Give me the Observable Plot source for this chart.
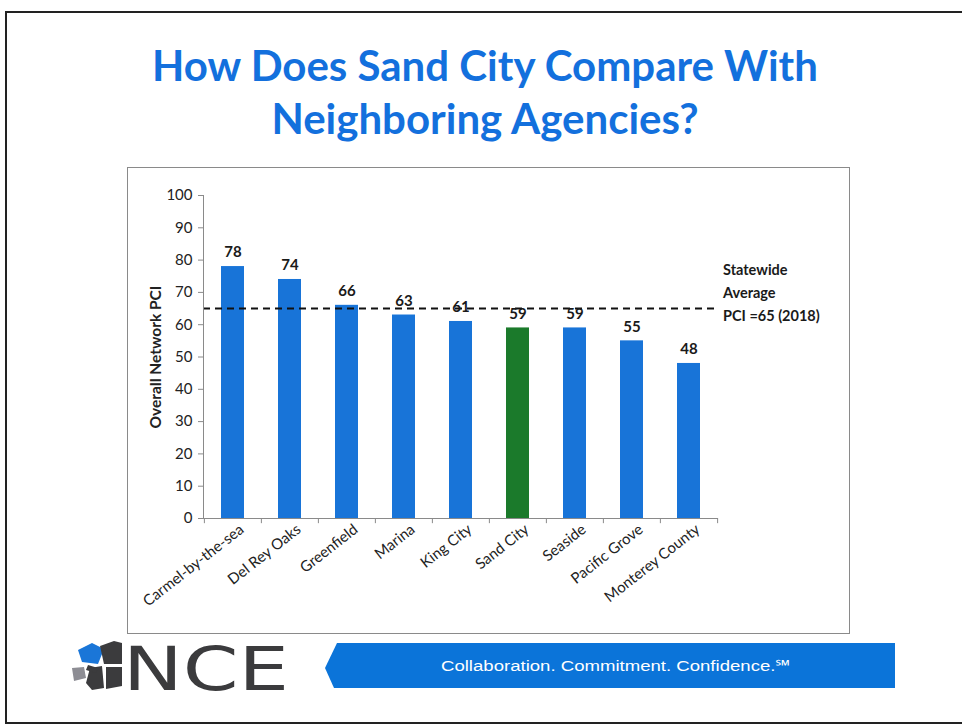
<!DOCTYPE html>
<html>
<head>
<meta charset="utf-8">
<script src="https://cdn.jsdelivr.net/npm/d3@7"></script>
<script src="https://cdn.jsdelivr.net/npm/@observablehq/plot@0.6"></script>
<style>
  html, body { margin: 0; padding: 0; background: #fff; }
  #slide { position: relative; width: 962px; height: 725px; overflow: hidden; background: #fff; font-family: Lato, "Open Sans", sans-serif; }
  #border { position: absolute; left: 5px; top: 11px; width: 962px; height: 709px; border-left: 2px solid #222; border-top: 2px solid #222; border-bottom: 2px solid #222; }
  #title { position: absolute; left: 0; top: 39px; width: 970px; text-align: center; color: #1370dd; font-weight: 700; font-size: 42px; line-height: 53px; }
  #chartbox { position: absolute; left: 127px; top: 167px; width: 721px; height: 465px; border: 1.5px solid #8a8a8a; }
  #chart { position: absolute; left: 127px; top: 165px; }
  #legend { position: absolute; left: 723px; top: 258px; font-weight: 700; font-size: 14.5px; line-height: 23px; color: #1a1a1a; }
  #footer { position: absolute; left: 0; top: 630px; }
</style>
</head>
<body>
<div id="slide">
  <div id="border"></div>
  <div id="title">How Does Sand City Compare With<br>Neighboring Agencies?</div>
  <div id="chartbox"></div>
  <div id="chart"></div>
  <div id="legend">Statewide<br>Average<br>PCI =65 (2018)</div>
  <svg id="footer" width="962" height="80" xmlns="http://www.w3.org/2000/svg">
    <g transform="translate(0,-630)">
      <polygon points="78,650 92,643 104,649 98,664 82,662" fill="#1a76d8"/>
      <polygon points="72,668 84,667 86,678 74,681" fill="#8d8d94"/>
      <polygon points="100,646 114,641 122,643 122,664 104,664" fill="#3b3b3d"/>
      <polygon points="90,668 102,666 104,688 92,690 86,683" fill="#3b3b3d"/>
      <polygon points="106,667 122,667 122,686 106,689" fill="#3b3b3d"/>
      <polygon points="88,665 98,668 96,673 86,670" fill="#3b3b3d"/>
      <text x="123" y="690" font-family="'DejaVu Sans', sans-serif" font-size="60" fill="#3b3b3d" textLength="166" lengthAdjust="spacingAndGlyphs">NCE</text>
      <polygon points="337,643 895,643 895,688 334,688 325,668" fill="#0b74d9"/>
      <text x="616" y="671" text-anchor="middle" font-family="'Liberation Sans', Arial, sans-serif" font-size="15.5" fill="#ffffff" textLength="350" lengthAdjust="spacingAndGlyphs">Collaboration. Commitment. Confidence.℠</text>
    </g>
  </svg>
</div>
<script>
const categories = ["Carmel-by-the-sea", "Del Rey Oaks", "Greenfield", "Marina", "King City", "Sand City", "Seaside", "Pacific Grove", "Monterey County"];
const pciValues = [78, 74, 66, 63, 61, 59, 59, 55, 48];
const highlighted = "Sand City";
const statewideAverage = [65];
const yTicks = [0, 10, 20, 30, 40, 50, 60, 70, 80, 90, 100];

const data = categories.map((name, i) => ({name, pci: pciValues[i]}));
const blue = "#1874d8";
const green = "#1b7a2b";

const W = 723, H = 467, mL = 76, mR = 132, mT = 30, mB = 114;
const step = (W - mL - mR) / categories.length;

const chart = Plot.plot({
  width: W,
  height: H,
  marginLeft: mL,
  marginRight: mR,
  marginTop: mT,
  marginBottom: mB,
  style: {fontFamily: "Lato, 'Open Sans', sans-serif", background: "transparent", color: "#222"},
  x: {domain: categories, paddingInner: 0.6, paddingOuter: 0.3},
  y: {domain: [0, 100]},
  marks: [
    Plot.barY(data, {x: "name", y: "pci", fill: d => d.name === highlighted ? green : blue}),
    Plot.ruleY(statewideAverage, {stroke: "#111", strokeWidth: 2, strokeDasharray: "7,5"}),
    Plot.text(data, {x: "name", y: "pci", text: d => String(d.pci), dy: -14, fontWeight: 700, fontSize: 15, fill: "#1a1a1a"}),
    Plot.ruleY([0], {stroke: "#8a8a8a", strokeWidth: 1}),
    Plot.frame({anchor: "left", stroke: "#8a8a8a"}),
    Plot.ruleX(categories, {x: d => d, dx: -step / 2, y1: 0, y2: -1.6, stroke: "#8a8a8a"}),
    Plot.ruleX([categories[categories.length - 1]], {x: d => d, dx: step / 2, y1: 0, y2: -1.6, stroke: "#8a8a8a"}),
    Plot.axisY({ticks: yTicks, tickSize: 5, tickPadding: 6, fontSize: 15, stroke: "#8a8a8a",
      label: "Overall Network PCI", labelAnchor: "center", labelArrow: "none", labelOffset: 54}),
    Plot.axisX({tickSize: 0, tickPadding: 9, tickRotate: -38, fontSize: 15, label: null, dx: 9})
  ]
});
chart.querySelectorAll("g[aria-label='y-axis label'] text").forEach(t => { t.setAttribute("font-weight", "700"); t.setAttribute("font-size", "15.5"); });
document.getElementById("chart").appendChild(chart);
</script>
</body>
</html>
